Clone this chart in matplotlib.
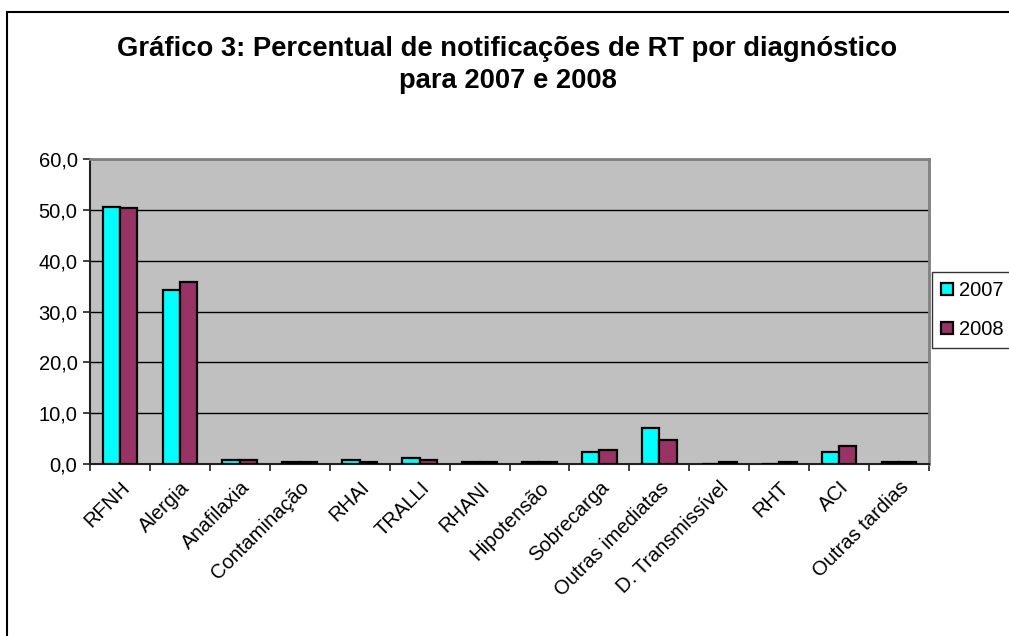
import numpy as np
import matplotlib.pyplot as plt
from matplotlib.patches import Rectangle

plt.rcParams['font.family'] = ['Liberation Sans', 'DejaVu Sans']

categorias = ['RFNH', 'Alergia', 'Anafilaxia', 'Contaminação', 'RHAI', 'TRALLI',
              'RHANI', 'Hipotensão', 'Sobrecarga', 'Outras imediatas',
              'D. Transmissível', 'RHT', 'ACI', 'Outras tardias']
pct_2007 = [50.6, 34.2, 0.7, 0.3, 0.7, 1.2, 0.4, 0.4, 2.4, 7.0, 0.0, 0.0, 2.3, 0.3]
pct_2008 = [50.3, 35.8, 0.7, 0.3, 0.3, 0.8, 0.4, 0.4, 2.7, 4.7, 0.4, 0.4, 3.5, 0.3]
anos = ['2007', '2008']
cores = ['#00FFFF', '#993366']

W, H = 1009, 636
fig = plt.figure(figsize=(W / 100, H / 100), dpi=100)
# chart border (runs off the right and bottom edges)
fig.add_artist(Rectangle((7 / W, -0.1), 1.1, 1.1 - 12 / H, transform=fig.transFigure,
                         fill=False, edgecolor='black', linewidth=1.5))

ax = fig.add_axes([90 / W, 1 - 464 / H, 839 / W, 305 / H])
ax.set_facecolor('#C0C0C0')

x = np.arange(len(categorias))
w = 0.29
ax.bar(x - w / 2, pct_2007, w, color=cores[0], edgecolor='black', linewidth=1.6,
       label=anos[0], zorder=3)
ax.bar(x + w / 2, pct_2008, w, color=cores[1], edgecolor='black', linewidth=1.6,
       label=anos[1], zorder=3)

ax.set_xlim(-0.5, len(categorias) - 0.5)
ax.set_ylim(0, 60)
ax.set_yticks(np.arange(0, 61, 10))
ax.set_yticklabels([f'{v:.1f}'.replace('.', ',') for v in range(0, 61, 10)], fontsize=14.5)
ax.yaxis.grid(True, color='black', linewidth=1, zorder=1)
ax.set_axisbelow(True)

ax.set_xticks(np.arange(-0.5, len(categorias), 1))
ax.set_xticklabels([])
ax.set_xticks(x, minor=True)
ax.set_xticklabels(categorias, minor=True, rotation=45, ha='right',
                   rotation_mode='anchor', fontsize=14.5)
ax.tick_params(axis='x', which='minor', length=0, pad=10)
ax.tick_params(axis='x', which='major', length=5, color='#202020', width=1.2)
ax.tick_params(axis='y', length=5, color='#202020', width=1.2, pad=4)

for s in ['left', 'bottom']:
    ax.spines[s].set_color('#202020')
    ax.spines[s].set_linewidth(1.5)
for s in ['top', 'right']:
    ax.spines[s].set_color('#808080')
    ax.spines[s].set_linewidth(2)

fig.text(0.503, 1 - 49 / H, 'Gráfico 3: Percentual de notificações de RT por diagnóstico',
         ha='center', va='center', fontsize=19.75, fontweight='bold')
fig.text(0.503, 1 - 81 / H, 'para 2007 e 2008',
         ha='center', va='center', fontsize=19.75, fontweight='bold')

leg = fig.legend(loc='upper left', bbox_to_anchor=(932 / W, 1 - 272 / H),
                 frameon=True, fancybox=False, fontsize=14.5, handlelength=0.6,
                 handleheight=0.6, handletextpad=0.3, labelspacing=1.0,
                 borderpad=0.45, borderaxespad=0)
leg.get_frame().set_edgecolor('black')
leg.get_frame().set_linewidth(1)

fig.savefig('out.png', dpi=100)
